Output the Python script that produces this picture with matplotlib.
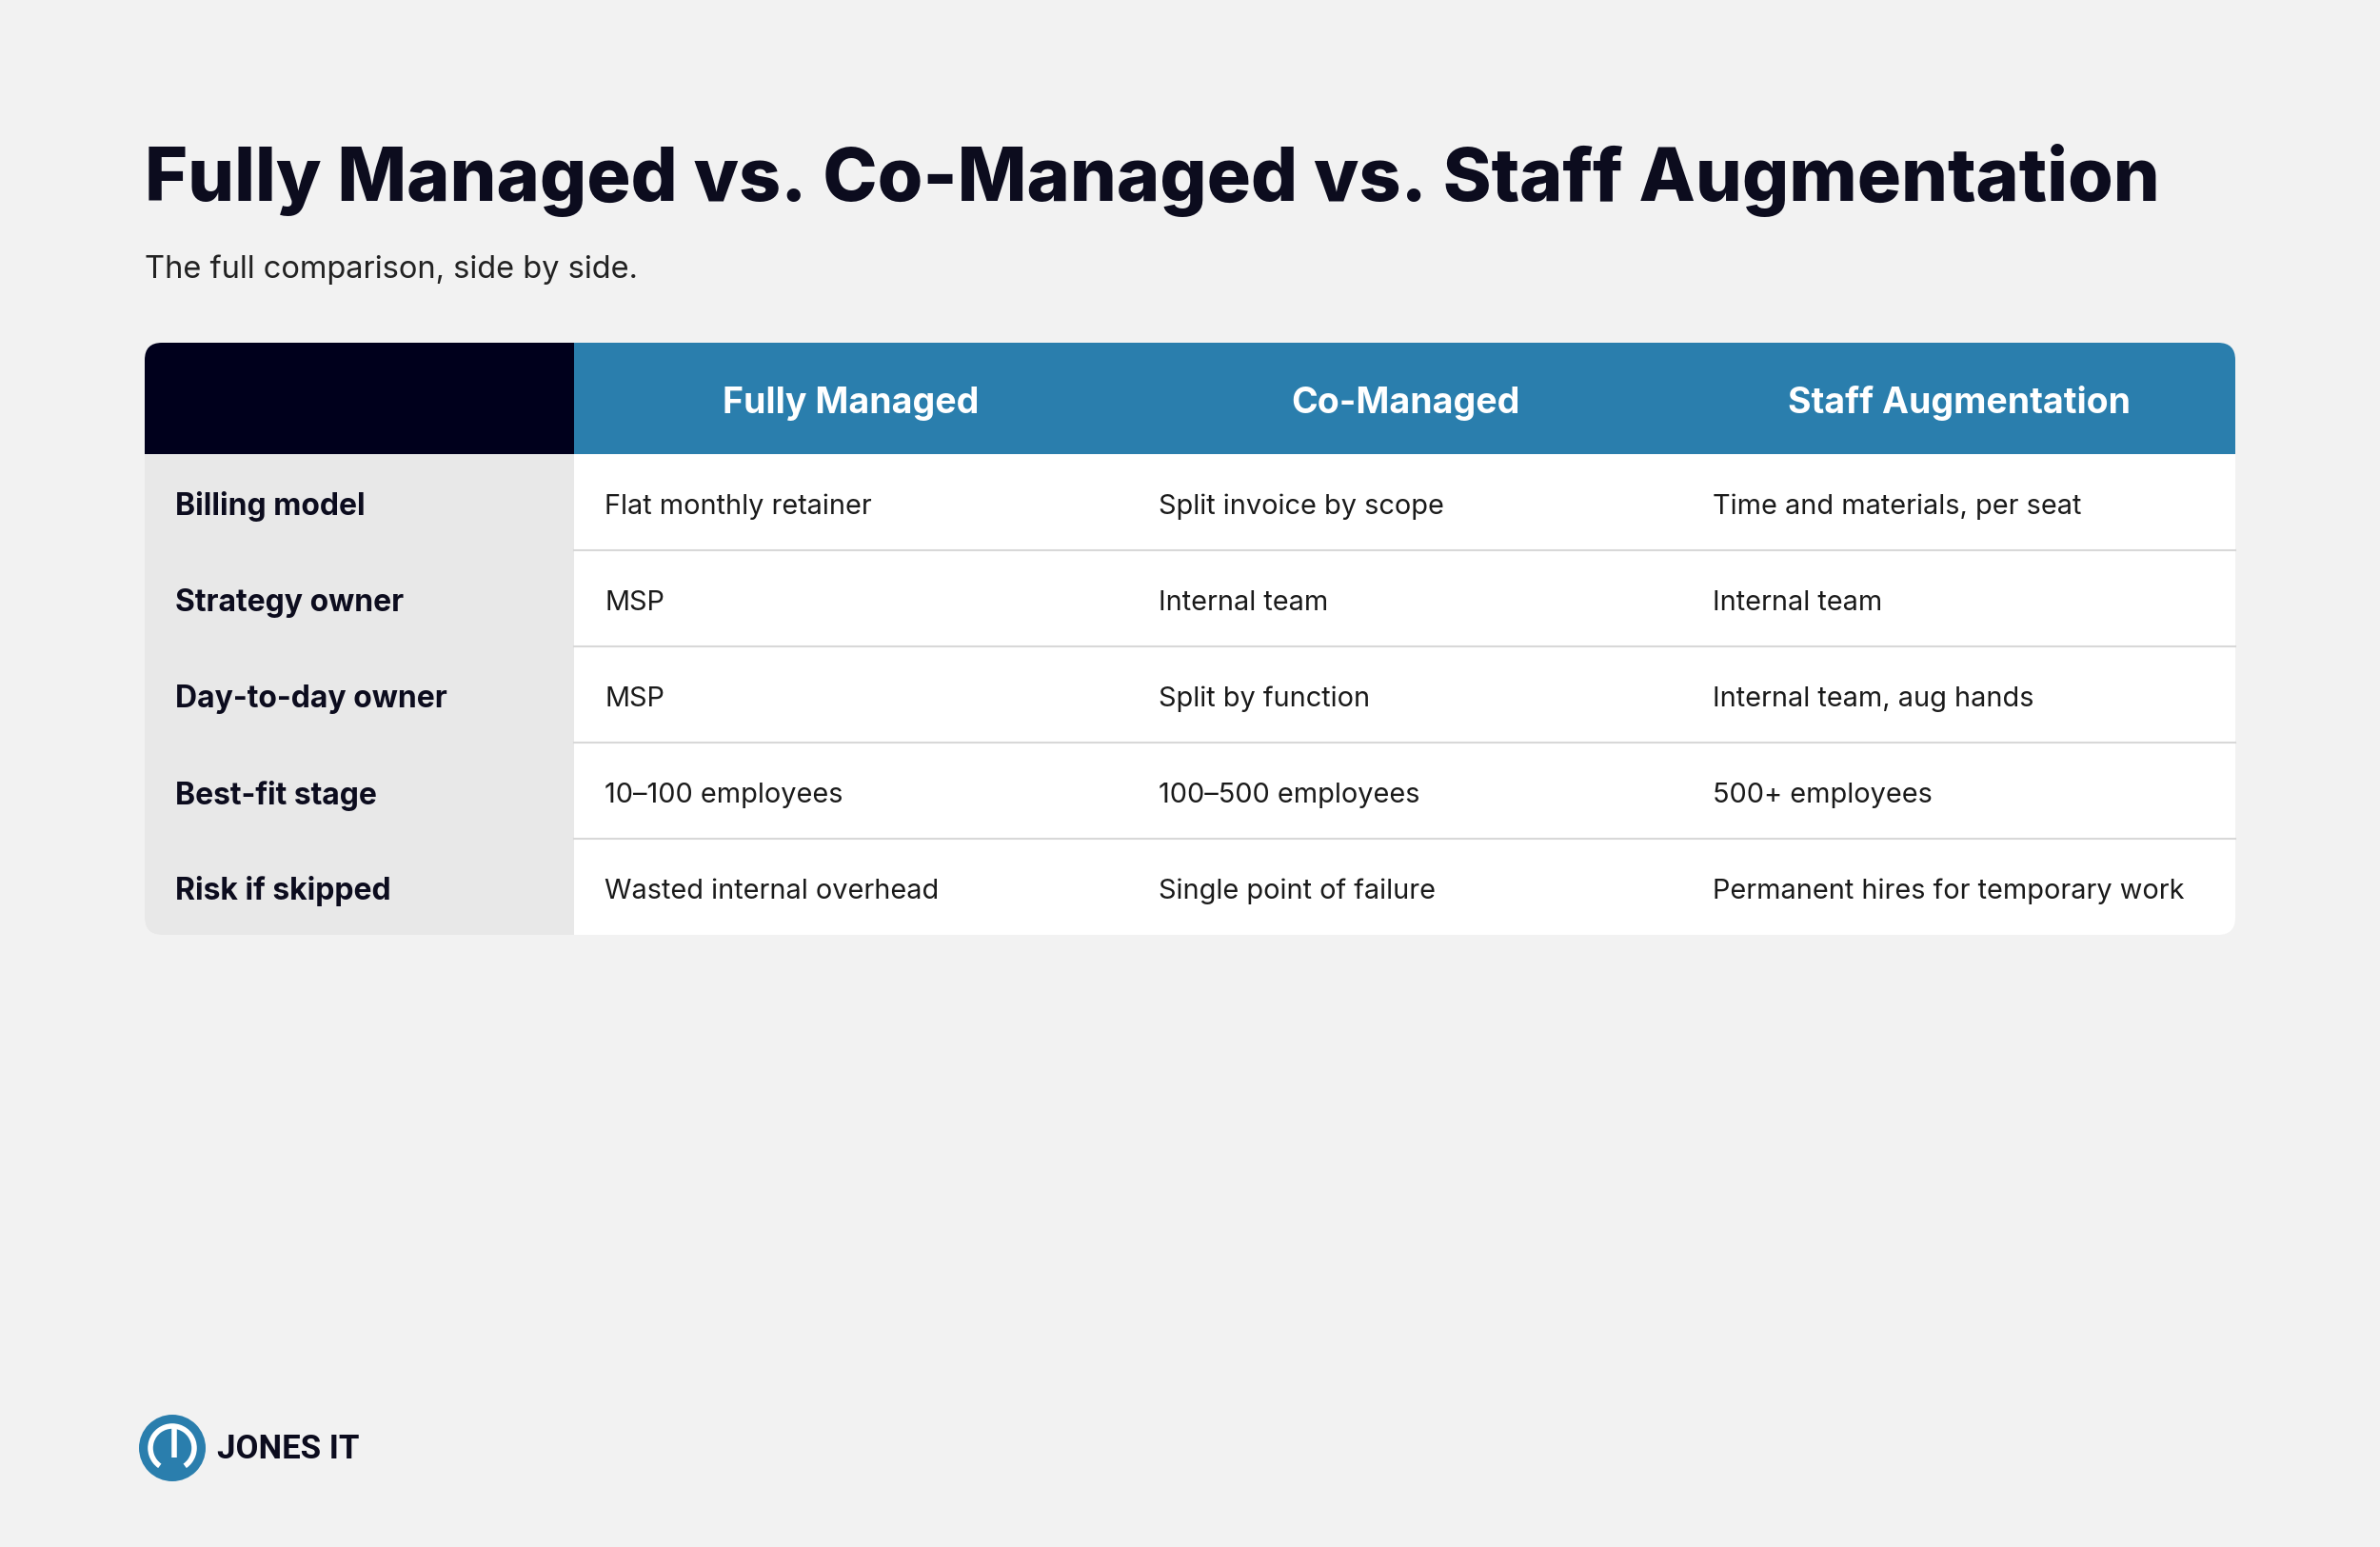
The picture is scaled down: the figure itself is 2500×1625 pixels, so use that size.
import matplotlib
matplotlib.use("Agg")
import matplotlib.pyplot as plt
from matplotlib.patches import FancyBboxPatch, Rectangle, Circle, Arc

title = "Fully Managed vs. Co-Managed vs. Staff Augmentation"
subtitle = "The full comparison, side by side."
columns = ["Fully Managed", "Co-Managed", "Staff Augmentation"]
row_labels = ["Billing model", "Strategy owner", "Day-to-day owner", "Best-fit stage", "Risk if skipped"]
fully = ["Flat monthly retainer", "MSP", "MSP", "10\u2013100 employees", "Wasted internal overhead"]
co = ["Split invoice by scope", "Internal team", "Split by function", "100\u2013500 employees", "Single point of failure"]
staff = ["Time and materials, per seat", "Internal team", "Internal team, aug hands", "500+ employees", "Permanent hires for temporary work"]

W, H = 2500, 1625
fig = plt.figure(figsize=(25, 16.25), dpi=100, facecolor="#f2f2f2")
ax = fig.add_axes([0, 0, 1, 1])
ax.set_xlim(0, W); ax.set_ylim(H, 0); ax.axis("off")
ff = ["Inter", "DejaVu Sans"]
dark = "#0c0c1e"
dy = 5

ax.text(152, 190, title, fontsize=55.5, fontweight="heavy", family=ff, color=dark, va="center", ha="left")
ax.text(152, 283, subtitle, fontsize=23.5, family=ff, color="#222222", va="center", ha="left")

L, R, T, B = 152, 2348, 360, 982
hb = 477
colx = [L, 603, 1185, 1767, R]
rowh = (B - hb) / len(row_labels)

clip = FancyBboxPatch((L, T), R - L, B - T, boxstyle="round,pad=0,rounding_size=18",
                      facecolor="white", edgecolor="none", transform=ax.transData)
ax.add_patch(clip)

def rect(x, y, w, h, c):
    p = Rectangle((x, y), w, h, facecolor=c, edgecolor="none")
    ax.add_patch(p); p.set_clip_path(clip)

rect(L, T, colx[1] - L, hb - T, "#00001c")
rect(colx[1], T, R - colx[1], hb - T, "#2a7ead")
rect(L, hb, colx[1] - L, B - hb, "#e8e8e8")
for i in range(1, len(row_labels)):
    y = hb + i * rowh
    ax.plot([colx[1], R], [y, y], color="#d8d8d8", lw=1.5)

for j, c in enumerate(columns):
    ax.text((colx[j + 1] + colx[j + 2]) / 2, (T + hb) / 2 + dy, c, fontsize=27, fontweight="bold",
            family=ff, color="white", ha="center", va="center")

data = [fully, co, staff]
for i, lab in enumerate(row_labels):
    yc = hb + (i + 0.5) * rowh + dy
    ax.text(L + 32, yc, lab, fontsize=23, fontweight="bold", family=ff, color=dark, ha="left", va="center")
    for j in range(3):
        ax.text(colx[j + 1] + 32, yc, data[j][i], fontsize=20.8, family=ff, color="#1a1a1a",
                ha="left", va="center")

# logo
cx, cy = 181, 1521
ax.add_patch(Circle((cx, cy), 35, facecolor="#2a7ead", edgecolor="none"))
ax.add_patch(Arc((cx, cy), 46, 46, theta1=-235 + 360 - 360, theta2=55, color="white", lw=4))
ax.plot([cx + 2, cx + 2], [cy - 25, cy + 10], color="white", lw=4, solid_capstyle="butt")
ax.text(228, 1523, "JONES IT", fontsize=25, fontweight="bold", family=["Roboto", "DejaVu Sans"],
        color=dark, ha="left", va="center")

fig.savefig("out.png", dpi=100, facecolor=fig.get_facecolor())
